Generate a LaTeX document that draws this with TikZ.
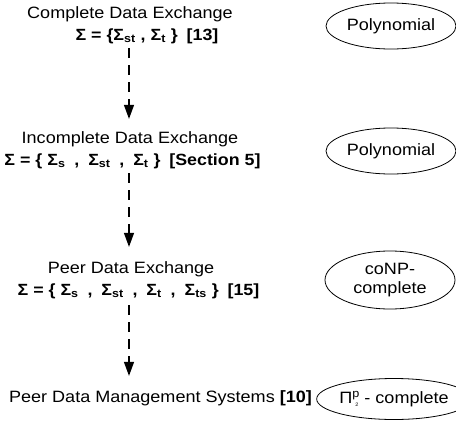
\documentclass[tikz,border=0pt]{standalone}
\usepackage{fontspec}
\setmainfont[FakeStretch=1.1]{Liberation Sans}
\usetikzlibrary{arrows.meta,shapes.geometric}
\newcommand{\sub}[1]{\textsubscript{#1}}
\newcommand{\gp}{\hspace{0.55em}}
\begin{document}
\begin{tikzpicture}[x=1pt,y=-1pt,
  lbl/.style={inner sep=0pt,font=\fontsize{16.4}{19}\selectfont},
  sig/.style={inner sep=0pt,font=\fontsize{16.2}{19}\selectfont\bfseries},
  cls/.style={ellipse,draw,line width=0.8pt,inner sep=0pt,font=\fontsize{16.4}{19}\selectfont,align=center},
  darr/.style={line width=1.4pt,dash pattern=on 10pt off 7pt,-{Triangle[length=14pt,width=10pt]}}]
\useasboundingbox (0,0) rectangle (456,421);
\node[lbl] (t1) at (130,14) {Complete Data Exchange};
\node[sig] (s1) at (147,36) {Σ = \{Σ\sub{st} , Σ\sub{t} \}\gp[13]};
\node[lbl] (t2) at (130,139) {Incomplete Data Exchange};
\node[sig] (s2) at (132.5,161) {Σ = \{ Σ\sub{s}\gp,\gp Σ\sub{st}\gp,\gp Σ\sub{t} \}\gp[Section 5]};
\node[lbl] (t3) at (131,269) {Peer Data Exchange};
\node[sig] (s3) at (138.5,291) {Σ = \{ Σ\sub{s}\gp,\gp Σ\sub{st}\gp,\gp Σ\sub{t}\gp,\gp Σ\sub{ts} \}\gp[15]};
\node[lbl] (t4) at (160.5,398) {Peer Data Management Systems \textbf{[10]}};
\node[cls,minimum width=130pt,minimum height=46pt] (c1) at (391,26) {Polynomial};
\node[cls,minimum width=130pt,minimum height=46pt] (c2) at (391,151) {Polynomial};
\node[cls,minimum width=130pt,minimum height=58pt] (c3) at (390,280) {coNP-\\complete};
\node[cls,minimum width=124pt,minimum height=41pt] (c4) at (394,399) {Π\textsuperscript{p}\kern-4.5pt\raisebox{-3pt}{\tiny 2}\kern1pt{} - complete};
\draw[darr,shorten <=4.4pt,shorten >=12.3pt] (s1.south -| 129,0) -- (t2.north -| 129,0);
\draw[darr,shorten <=4.4pt,shorten >=14.3pt] (s2.south -| 129,0) -- (t3.north -| 129,0);
\draw[darr,shorten <=6.4pt,shorten >=14.3pt] (s3.south -| 129,0) -- (t4.north -| 129,0);
\end{tikzpicture}
\end{document}
